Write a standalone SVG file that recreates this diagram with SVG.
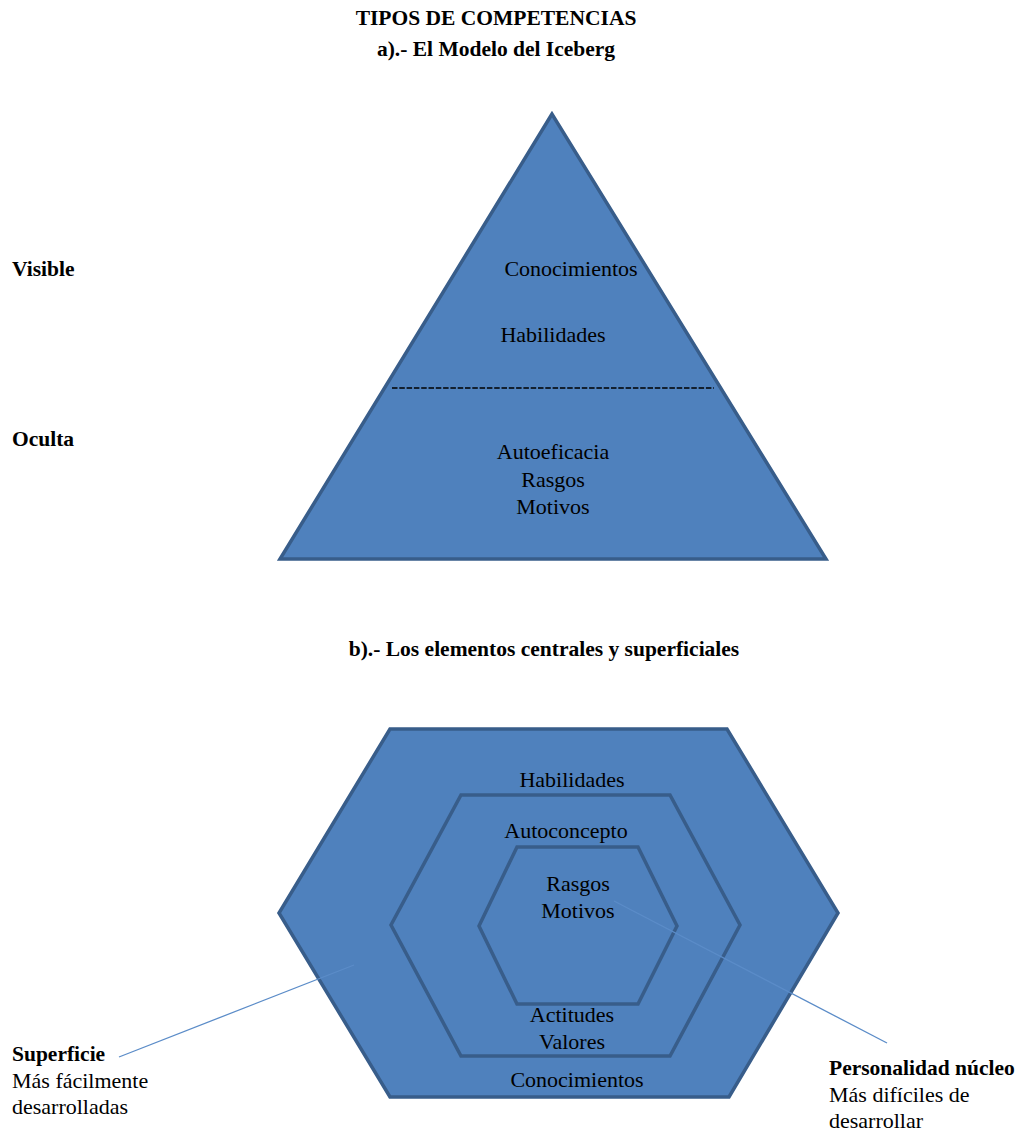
<svg xmlns="http://www.w3.org/2000/svg" width="1021" height="1133" viewBox="0 0 1021 1133">
<style>
.shape{fill:#4F81BD;stroke:#385D8A;stroke-width:3.5;stroke-linejoin:miter}
.t{font-family:"Liberation Serif","Times New Roman",serif;font-size:22px;fill:#000}
.c{text-anchor:middle}
.b{font-family:"Liberation Serif","Times New Roman",serif;font-size:21.5px;font-weight:bold;fill:#000}
.callout{stroke:#5B8CC8;stroke-width:1.3;fill:none}
</style>
<rect width="1021" height="1133" fill="#fff"/>
<g id="titles">
<text class="b c" x="496" y="25">TIPOS DE COMPETENCIAS</text>
<text class="b c" x="496" y="56">a).- El Modelo del Iceberg</text>
<text class="b c" x="544" y="656">b).- Los elementos centrales y superficiales</text>
</g>
<g id="iceberg">
<polygon class="shape" points="552,114 280,559 826,559"/>
<line x1="392" y1="388" x2="714" y2="388" stroke="#000" stroke-width="1.5" stroke-dasharray="5.5 1.8"/>
<text class="t c" x="571" y="276">Conocimientos</text>
<text class="t c" x="553" y="342">Habilidades</text>
<text class="t c" x="553" y="459">Autoeficacia</text>
<text class="t c" x="553" y="487">Rasgos</text>
<text class="t c" x="553" y="514">Motivos</text>
</g>
<g id="label-visible"><text class="b" x="12" y="276">Visible</text></g>
<g id="label-oculta"><text class="b" x="12" y="446">Oculta</text></g>
<g id="hex-outer">
<polygon class="shape" points="390,729 727,729 838,913 729,1097 390,1097 279,913"/>
<text class="t c" x="572" y="787">Habilidades</text>
<text class="t c" x="577" y="1087">Conocimientos</text>
</g>
<g id="hex-middle">
<polygon class="shape" points="461,795 670,795 740,925 670,1056 461,1056 391,925"/>
<text class="t c" x="566" y="838">Autoconcepto</text>
<text class="t c" x="572" y="1022">Actitudes</text>
<text class="t c" x="572" y="1049">Valores</text>
</g>
<g id="hex-inner">
<polygon class="shape" points="517,847 638,847 677,926 638,1004 517,1004 479,926"/>
<text class="t c" x="578" y="891">Rasgos</text>
<text class="t c" x="578" y="918">Motivos</text>
</g>
<g id="connectors">
<line class="callout" x1="119" y1="1057" x2="354" y2="965"/>
<line class="callout" x1="614" y1="901" x2="887" y2="1043"/>
</g>
<g id="label-superficie">
<text class="b" x="12" y="1061">Superficie</text>
<text class="t" x="12" y="1088">Más fácilmente</text>
<text class="t" x="12" y="1114">desarrolladas</text>
</g>
<g id="label-personalidad">
<text class="b" x="829" y="1075">Personalidad núcleo</text>
<text class="t" x="829" y="1102">Más difíciles de</text>
<text class="t" x="829" y="1128">desarrollar</text>
</g>
</svg>
